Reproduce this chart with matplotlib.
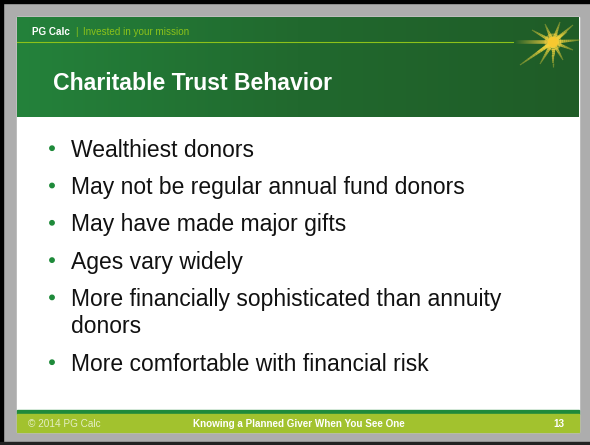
import numpy as np
import matplotlib
matplotlib.use("Agg")
import matplotlib.pyplot as plt
from matplotlib.patches import Rectangle, Circle
from matplotlib.colors import LinearSegmentedColormap

plt.rcParams['font.family'] = ['Liberation Sans', 'DejaVu Sans']

# ---- content ----
brand = "PG Calc"
tagline = "Invested in your mission"
title = "Charitable Trust Behavior"
bullets = [
    ["Wealthiest donors"],
    ["May not be regular annual fund donors"],
    ["May have made major gifts"],
    ["Ages vary widely"],
    ["More financially sophisticated than annuity", "donors"],
    ["More comfortable with financial risk"],
]
footer_left = "\u00a9 2014 PG Calc"
footer_mid = "Knowing a Planned Giver When You See One"
footer_page = "13"

W, H = 590, 445
fig = plt.figure(figsize=(W / 100, H / 100), dpi=100)
ax = fig.add_axes([0, 0, 1, 1])
ax.set_xlim(0, W)
ax.set_ylim(H, 0)
ax.axis('off')

# background frame
ax.add_patch(Rectangle((0, 0), W, H, color='#adadad', zorder=0))
ax.add_patch(Rectangle((0, 0), W, 3, color='black', zorder=1))
ax.add_patch(Rectangle((0, 0), 3, H, color='black', zorder=1))
ax.add_patch(Rectangle((0, 442), W, 3, color='#222222', zorder=1))

x0, x1 = 17, 578.5
ax.add_patch(Rectangle((x0, 17), x1 - x0, 415, color='white', zorder=1))

# header gradient
cmap = LinearSegmentedColormap.from_list('hdr', ['#24823b', '#21692e', '#1f5c27'])
grad = np.linspace(0, 1, 256).reshape(1, -1)
ax.imshow(grad, extent=(x0, x1, 117, 17), cmap=cmap, aspect='auto', zorder=2,
          interpolation='bicubic')

ax.plot([x0, 513], [42, 42], color='#8cc21a', lw=0.8, zorder=3)

# star
cx, cy = 553, 42
flare_x = np.linspace(514, cx, 40)
for i in range(len(flare_x) - 1):
    a = i / len(flare_x)
    ax.plot(flare_x[i:i + 2], [42, 42], color='#f5d040', alpha=a, lw=2.6,
            zorder=4, solid_capstyle='butt')
rays = [(20, -17), (-8, -18), (7, -20), (27, -2), (20, 8), (10, 18), (0, 25),
        (-33, 23), (-13, 22), (-21, -12), (14, -10), (-16, 10)]
for dx, dy in rays:
    n = 14
    f = np.linspace(0, 1, n)
    for j in range(n - 1):
        ax.plot([cx + f[j] * dx, cx + f[j + 1] * dx],
                [cy + f[j] * dy, cy + f[j + 1] * dy],
                color='#f5d83e', alpha=1 - 0.75 * j / n, lw=2.4 * (1 - j / n) + 0.5,
                zorder=4, solid_capstyle='butt')
ax.add_patch(Circle((cx, cy), 8, color='#f7d040', alpha=0.35, zorder=5))
ax.add_patch(Circle((cx, cy), 4.5, color='#f8c830', zorder=5))

# header texts
ax.text(32, 32, brand, color='white', fontsize=7.1, fontweight='bold',
        va='center', ha='left', zorder=6)
ax.text(75.5, 32, "|", color='#8cc21a', fontsize=7.1, va='center', ha='left', zorder=6)
ax.text(83, 32, tagline, color='#8cc21a', fontsize=7.1, va='center', ha='left', zorder=6)

ax.text(53, 84, title, color='white', fontsize=16.6, fontweight='bold',
        va='center', ha='left', zorder=6)

# bullets
base = 156.7
item_step = 37.3
line_step = 27.5
for lines in bullets:
    ax.add_patch(Circle((52, base - 8.5), 2.2, color='#1e8a3a', zorder=6))
    for k, ln in enumerate(lines):
        ax.text(71, base + k * line_step, ln, color='#111111', fontsize=16.45,
                va='baseline', ha='left', zorder=6)
    base += (len(lines) - 1) * line_step + item_step

# footer
ax.add_patch(Rectangle((x0, 410), x1 - x0, 3.5, color='#1f8a3b', zorder=2))
ax.add_patch(Rectangle((x0, 413.5), x1 - x0, 18.5, color='#a2c22e', zorder=2))
ax.text(28, 424, footer_left, color='#e4eec4', fontsize=7.2, va='center', ha='left', zorder=6)
ax.text(193, 424, footer_mid, color='white', fontsize=7.1, fontweight='bold',
        va='center', ha='left', zorder=6)
ax.text(564, 424, footer_page, color='white', fontsize=7.1, fontweight='bold',
        va='center', ha='right', zorder=6)

fig.savefig("out.png", dpi=100)
